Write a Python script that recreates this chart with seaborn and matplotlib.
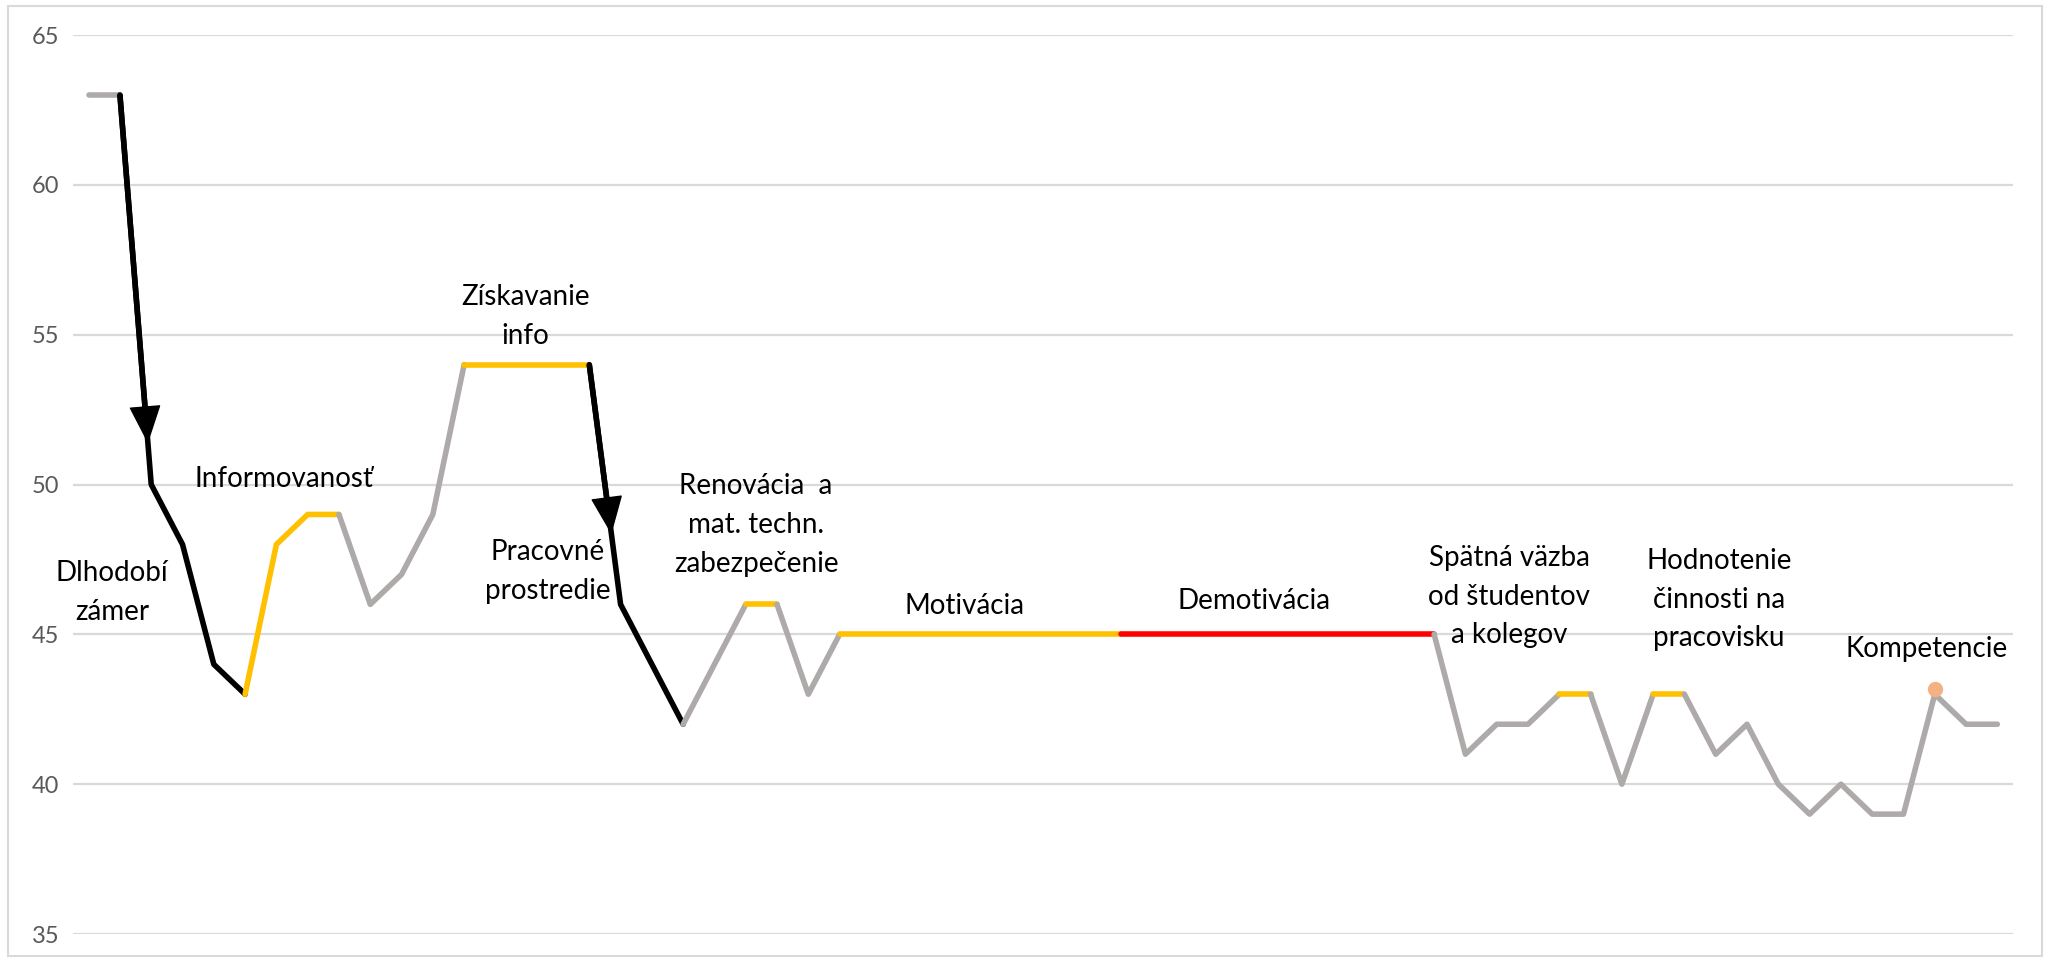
import numpy as np
import pandas as pd
import matplotlib
matplotlib.use('Agg')
import matplotlib.pyplot as plt
import matplotlib.transforms as mtransforms
from matplotlib.patches import Rectangle
import seaborn as sns

# values (one point per step)
values = [63, 63, 50, 48, 44, 43, 48, 49, 49, 46, 47, 49, 54, 54, 54, 54, 54, 46, 44, 42, 44, 46, 46, 43,
          45, 45, 45, 45, 45, 45, 45, 45, 45, 45, 45, 45, 45, 45, 45, 45, 45, 45, 45, 45,
          41, 42, 42, 43, 43, 40, 43, 43, 41, 42, 40, 39, 40, 39, 39, 43, 42, 42]

# colour of the line between consecutive break indices
seg_breaks = [0, 1, 5, 8, 12, 16, 19, 21, 22, 24, 33, 43, 47, 48, 50, 51, 61]
seg_kinds = ['gray', 'black', 'yellow', 'gray', 'yellow', 'black', 'gray', 'yellow',
             'gray', 'yellow', 'red', 'gray', 'yellow', 'gray', 'yellow', 'gray']

# annotation labels (x = step, y = value)
label_texts = ['Dlhodobí\nzámer', 'Informovanosť', 'Získavanie\ninfo', 'Pracovné\nprostredie',
               'Renovácia  a\nmat. techn.\nzabezpečenie', 'Motivácia', 'Demotivácia',
               'Spätná väzba\nod študentov\na kolegov', 'Hodnotenie\nčinnosti na\npracovisku',
               'Kompetencie']
label_x = [0.75, 6.25, 13.96, 14.67, 21.33, 28.0, 37.25, 45.4, 52.1, 58.75]
label_y = [46.4, 50.2, 55.6, 47.1, 48.65, 45.95, 46.1, 46.25, 46.15, 44.5]

# arrows drawn on the falling segments: start step, fraction of the segment
arrow_start = [1, 16]
arrow_frac = [0.89, 0.70]

# highlighted point
highlight_idx = 59

colors = {'gray': '#AEAAAA', 'black': '#000000', 'yellow': '#FFC000', 'red': '#FF0000'}

sns.set_style('white')
plt.rcParams['font.family'] = ['Lato', 'DejaVu Sans']

fig = plt.figure(figsize=(20.47, 9.61), dpi=100)
ax = fig.add_axes([73 / 2047, 1 - 934 / 961, (2013 - 73) / 2047, (934 - 35) / 961])

x = np.arange(len(values))
y = np.array(values, dtype=float)

for i, kind in enumerate(seg_kinds):
    a, b = seg_breaks[i], seg_breaks[i + 1]
    seg = pd.DataFrame({'x': x[a:b + 1], 'y': y[a:b + 1]})
    sns.lineplot(data=seg, x='x', y='y', color=colors[kind], linewidth=4,
                 estimator=None, sort=False, ax=ax,
                 solid_capstyle='round', solid_joinstyle='round', zorder=3)

for s, f in zip(arrow_start, arrow_frac):
    x0, y0 = x[s], y[s]
    x1 = x0 + f * (x[s + 1] - x0)
    y1 = y0 + f * (y[s + 1] - y0)
    ax.annotate('', xy=(x1, y1), xytext=(x0, y0),
                arrowprops=dict(facecolor='black', edgecolor='black', width=3,
                                headwidth=21, headlength=25, shrink=0), zorder=4)

offset = mtransforms.offset_copy(ax.transData, fig=fig, x=0, y=4, units='points')
ax.plot([x[highlight_idx]], [y[highlight_idx]], 'o', color='#F4B183',
        markersize=10, transform=offset, zorder=5)

for t, lx, ly in zip(label_texts, label_x, label_y):
    ax.text(lx, ly, t, ha='center', va='center', fontsize=20, color='black',
            linespacing=1.6, zorder=6)

ax.set_xlim(-0.5, len(values) - 0.5)
ax.set_ylim(35, 65)
ax.set_yticks([35, 40, 45, 50, 55, 60, 65])
ax.set_xticks([])
ax.yaxis.grid(True, color='#D9D9D9', linewidth=1.6)
ax.set_axisbelow(True)
ax.tick_params(axis='y', length=0, pad=10, labelsize=17, labelcolor='#595959')
ax.set_xlabel('')
ax.set_ylabel('')
for sp in ax.spines.values():
    sp.set_visible(False)

fig.patches.append(Rectangle((8 / 2047, 1 - 956 / 961), (2042 - 8) / 2047, (956 - 6) / 961,
                             transform=fig.transFigure, fill=False,
                             edgecolor='#D9D9D9', linewidth=1.5))

fig.savefig('out.png', dpi=100)
